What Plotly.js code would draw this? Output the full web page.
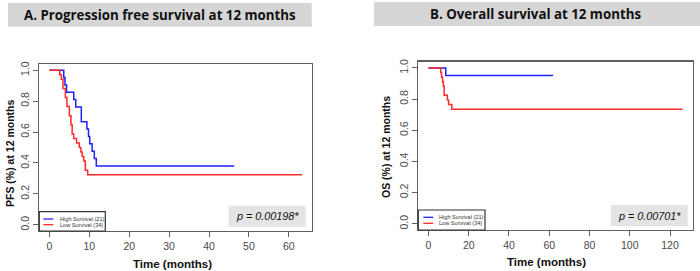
<!DOCTYPE html>
<html>
<head>
<meta charset="utf-8">
<script src="https://cdn.plot.ly/plotly-3.0.1.min.js"></script>
<style>
  html, body { margin: 0; padding: 0; background: #fff; }
  #chart { width: 700px; height: 271px; }
</style>
</head>
<body>
<div id="chart"></div>
<script>
// Kaplan-Meier step curves (time in months, survival proportion)
const groupLabels = ['High Survival (21)', 'Low Survival (34)'];
const groupColors = ['#1f1fff', '#ff2a2a'];

// Panel A: progression free survival
const pfsHighT = [0, 3.6, 3.9, 4.3, 6.1, 6.6, 8.0, 9.4, 9.8, 10.1, 10.7, 11.25, 11.75, 46.3];
const pfsHighS = [1, 0.952, 0.905, 0.857, 0.810, 0.762, 0.667, 0.619, 0.571, 0.524, 0.476, 0.429, 0.381, 0.381];
const pfsLowT = [0, 2.6, 3.0, 3.4, 4.0, 4.4, 5.0, 5.4, 5.7, 6.1, 6.8, 7.5, 7.9, 8.2, 8.6, 9.0, 9.6, 63.3];
const pfsLowS = [1, 0.971, 0.941, 0.882, 0.824, 0.765, 0.706, 0.647, 0.588, 0.559, 0.529, 0.500, 0.471, 0.441, 0.412, 0.353, 0.324, 0.324];

// Panel B: overall survival
const osHighT = [0, 8.6, 61.9];
const osHighS = [1, 0.952, 0.952];
const osLowT = [0, 6.1, 6.5, 7.0, 7.4, 7.8, 9.4, 10.0, 11.6, 126.2];
const osLowS = [1, 0.971, 0.941, 0.912, 0.882, 0.824, 0.794, 0.765, 0.735, 0.735];

const panelTitles = ['A. Progression free survival at 12 months', 'B. Overall survival at 12 months'];
const yTitles = ['PFS (%) at 12 months', 'OS (%) at 12 months'];
const xTitle = 'Time (months)';
const pValues = ['0.00198', '0.00701'];
const yTicks = [0, 0.2, 0.4, 0.6, 0.8, 1.0];
const xTicksA = [0, 10, 20, 30, 40, 50, 60];
const xTicksB = [0, 20, 40, 60, 80, 100, 120];

// pixel -> paper helpers (margins are zero, so paper == page)
const W = 700, H = 271;
const px = v => v / W;
const py = v => 1 - v / H;

function step(x, y, color, xa, ya) {
  return {
    x: x, y: y, xaxis: xa, yaxis: ya, type: 'scatter', mode: 'lines',
    line: { shape: 'hv', color: color, width: 1.5 },
    showlegend: false, hoverinfo: 'skip'
  };
}

const traces = [
  step(pfsHighT, pfsHighS, groupColors[0], 'x', 'y'),
  step(pfsLowT, pfsLowS, groupColors[1], 'x', 'y'),
  step(osHighT, osHighS, groupColors[0], 'x2', 'y2'),
  step(osLowT, osLowS, groupColors[1], 'x2', 'y2')
];

const tickFont = { family: 'Liberation Sans, Arial, sans-serif', size: 10.5, color: '#4a4a4a' };
function axisBase() {
  return {
    showline: true, mirror: true, linecolor: '#606060', linewidth: 1.3,
    ticks: 'outside', ticklen: 5, tickwidth: 1, tickcolor: '#606060',
    showgrid: false, zeroline: false, tickfont: tickFont, fixedrange: true
  };
}

const layout = {
  width: W, height: H,
  margin: { l: 0, r: 0, t: 0, b: 0 },
  paper_bgcolor: '#ffffff', plot_bgcolor: '#ffffff',
  showlegend: false,
  xaxis: Object.assign(axisBase(), {
    domain: [px(39.3), px(312)], range: [-2.53, 65.8],
    tickmode: 'array', tickvals: xTicksA, anchor: 'y'
  }),
  yaxis: Object.assign(axisBase(), {
    domain: [py(231), py(64)], range: [-0.04, 1.04],
    tickmode: 'array', tickvals: yTicks, ticktext: yTicks.map(v => v.toFixed(1)),
    tickangle: -90, anchor: 'x'
  }),
  xaxis2: Object.assign(axisBase(), {
    domain: [px(418.3), px(692.7)], range: [-5.05, 131.25],
    tickmode: 'array', tickvals: xTicksB, anchor: 'y2'
  }),
  yaxis2: Object.assign(axisBase(), {
    domain: [py(230), py(61.7)], range: [-0.04, 1.04],
    tickmode: 'array', tickvals: yTicks, ticktext: yTicks.map(v => v.toFixed(1)),
    tickangle: -90, anchor: 'x2'
  }),
  shapes: [],
  annotations: []
};

const shapes = layout.shapes, ann = layout.annotations;

// panel header bars
const headers = [
  { x0: 8, x1: 311.7, y0: 3, y1: 26.7, cx: 159.5 },
  { x0: 374, x1: 700, y0: 2, y1: 26, cx: 535 }
];
headers.forEach((h, i) => {
  shapes.push({ type: 'rect', xref: 'paper', yref: 'paper', layer: 'below',
    x0: px(h.x0), x1: px(h.x1), y0: py(h.y1), y1: py(h.y0),
    fillcolor: '#d6d6d6', line: { width: 0 } });
  ann.push({ xref: 'paper', yref: 'paper', x: px(h.cx), y: py((h.y0 + h.y1) / 2),
    xanchor: 'center', yanchor: 'middle', showarrow: false,
    text: '<b>' + panelTitles[i] + '</b>',
    font: { family: 'Open Sans, Liberation Sans, sans-serif', size: 13.3, color: '#111' } });
});

// axis titles
const axisTitlePos = [
  { yx: 10, yy: 153, xx: 172.5, xy: 264 },
  { yx: 386, yy: 147, xx: 546, xy: 262 }
];
axisTitlePos.forEach((p, i) => {
  ann.push({ xref: 'paper', yref: 'paper', x: px(p.yx), y: py(p.yy),
    xanchor: 'center', yanchor: 'middle', showarrow: false, textangle: -90,
    text: '<b>' + yTitles[i] + '</b>',
    font: { family: 'Liberation Sans, Arial, sans-serif', size: 10.5, color: '#111' } });
  ann.push({ xref: 'paper', yref: 'paper', x: px(p.xx), y: py(p.xy),
    xanchor: 'center', yanchor: 'middle', showarrow: false,
    text: '<b>' + xTitle + '</b>',
    font: { family: 'Liberation Sans, Arial, sans-serif', size: 11.5, color: '#111' } });
});

// p-value boxes
const pBoxes = [
  { x0: 228.7, x1: 305.7, y0: 205.7, y1: 226.7 },
  { x0: 610.7, x1: 687.7, y0: 205, y1: 226 }
];
pBoxes.forEach((b, i) => {
  shapes.push({ type: 'rect', xref: 'paper', yref: 'paper', layer: 'below',
    x0: px(b.x0), x1: px(b.x1), y0: py(b.y1), y1: py(b.y0),
    fillcolor: '#e4e4e4', line: { width: 0 } });
  ann.push({ xref: 'paper', yref: 'paper', x: px((b.x0 + b.x1) / 2), y: py((b.y0 + b.y1) / 2),
    xanchor: 'center', yanchor: 'middle', showarrow: false,
    text: '<i>p = ' + pValues[i] + '*</i>',
    font: { family: 'Liberation Sans, Arial, sans-serif', size: 10.8, color: '#111' } });
});

// legend boxes (bottom-left inside each panel)
const legends = [
  { x0: 39.3, x1: 105.3, y0: 211.7, y1: 231, lx0: 43.3, lx1: 53.3, ly: [219, 224.7], tx: 57.5 },
  { x0: 418.3, x1: 485, y0: 210, y1: 230, lx0: 423.3, lx1: 433.3, ly: [217.3, 223.3], tx: 437 }
];
legends.forEach(l => {
  shapes.push({ type: 'rect', xref: 'paper', yref: 'paper',
    x0: px(l.x0), x1: px(l.x1), y0: py(l.y1), y1: py(l.y0),
    fillcolor: 'rgba(255,255,255,0)', line: { color: '#333', width: 1.2 } });
  groupLabels.forEach((lab, k) => {
    shapes.push({ type: 'line', xref: 'paper', yref: 'paper',
      x0: px(l.lx0), x1: px(l.lx1), y0: py(l.ly[k]), y1: py(l.ly[k]),
      line: { color: groupColors[k], width: 1.3 } });
    ann.push({ xref: 'paper', yref: 'paper', x: px(l.tx), y: py(l.ly[k]),
      xanchor: 'left', yanchor: 'middle', showarrow: false, text: lab,
      font: { family: 'Liberation Sans, Arial, sans-serif', size: 5.6, color: '#333' } });
  });
});

Plotly.newPlot('chart', traces, layout, { displayModeBar: false, staticPlot: true });
</script>
</body>
</html>
